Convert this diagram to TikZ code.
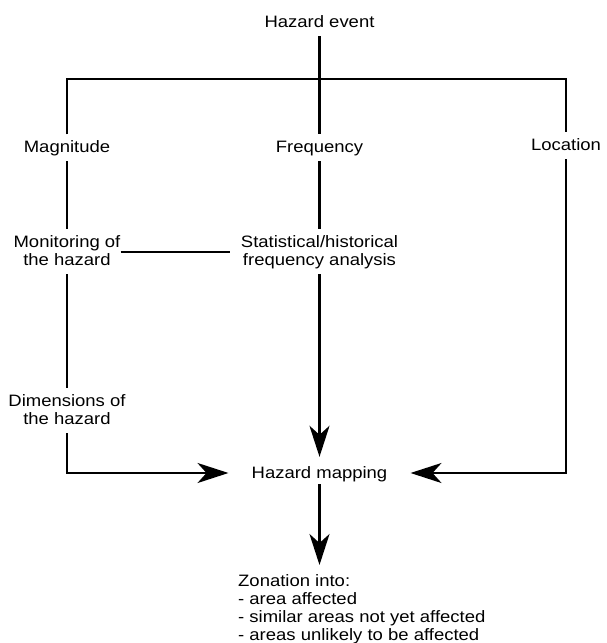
\documentclass[tikz,border=0pt]{standalone}
\usepackage{fontspec}
\setmainfont{Liberation Sans}[FakeStretch=1.12]
\usetikzlibrary{arrows.meta}
% uniform line height for every text line
\newcommand\lnstrut{\rule[-3.5pt]{0pt}{15.7pt}}
\begin{document}
\begin{tikzpicture}[x=1pt,y=-1pt,
  lbl/.style={inner xsep=3pt, inner ysep=5.5pt, align=center,
              font=\fontsize{16.5}{18}\selectfont},
  wire/.style={line width=2.2pt},
  arr/.style={wire, -{Stealth[length=31pt,width=20pt,inset=9pt]}}]
\useasboundingbox (0,0) rectangle (607,643);

% labels
\node[lbl, anchor=north] (hazev) at (319.5,9.3)   {Hazard event\lnstrut};
\node[lbl, anchor=north] (mag)   at (67,134.3)    {Magnitude\lnstrut};
\node[lbl, anchor=north] (freq)  at (319.5,134.3) {Frequency\lnstrut};
\node[lbl, anchor=north] (loc)   at (566,132.3)   {Location\lnstrut};
\node[lbl, anchor=north, inner xsep=0pt] (mon) at (67,229.3)
  {Monitoring of\lnstrut\\the hazard\lnstrut};
\node[lbl, anchor=north, inner xsep=11pt] (stat) at (319.5,229.3)
  {Statistical/historical\lnstrut\\frequency analysis\lnstrut};
\node[lbl, anchor=north] (dim)   at (67,388.3)
  {Dimensions of\lnstrut\\the hazard\lnstrut};
\node[lbl, anchor=base, inner xsep=23pt, inner ysep=0pt,
      text height=21.5pt, text depth=10.5pt] (map) at (319.5,478.5)
  {Hazard mapping};
\node[lbl, anchor=north west, align=left, inner xsep=0pt, inner ysep=8.8pt] (zon)
  at (238,565)
  {Zonation into:\lnstrut\\- area affected\lnstrut\\- similar areas not yet affected\lnstrut\\- areas unlikely to be affected\lnstrut};

% branching bar below the hazard event
\coordinate (bar) at (319.5,79);
\draw[wire] (hazev) -- (freq);
\draw[wire] (mag.north) |- (bar) -| (loc.north);

% left column
\draw[wire] (mag) -- (mon);
\draw[wire] (mon) -- (dim);
\draw[wire] (mon) -- (stat);
\draw[arr] (dim.south) |- (map.west);

% centre column
\draw[wire] (freq) -- (stat);
\draw[arr] (stat) -- (map);
\draw[arr, shorten <=-5pt] (map.south) -- (map.south |- zon.north);

% right column
\draw[arr] (loc.south) |- (map.east);
\end{tikzpicture}
\end{document}
